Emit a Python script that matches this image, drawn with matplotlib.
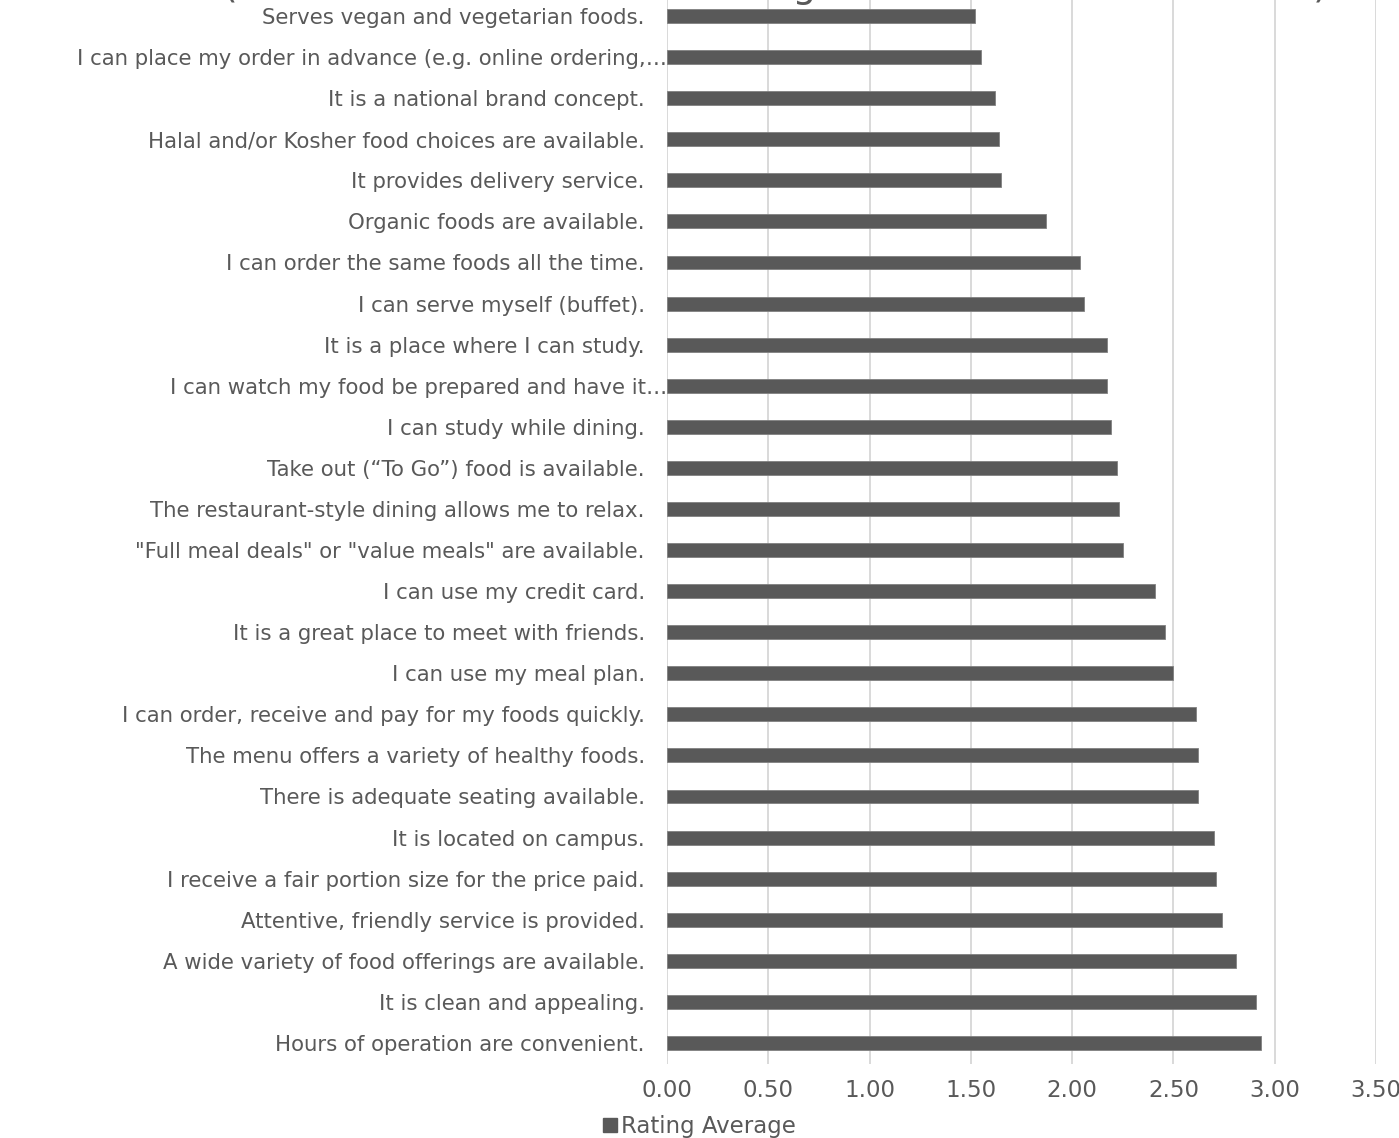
import matplotlib
matplotlib.use("Agg")
import matplotlib.pyplot as plt
from matplotlib.patches import Patch
import matplotlib.transforms as mtransforms
import numpy as np

# Categories, top to bottom as shown
labels = [
    "Serves vegan and vegetarian foods.",
    "I can place my order in advance (e.g. online ordering,…",
    "It is a national brand concept.",
    "Halal and/or Kosher food choices are available.",
    "It provides delivery service.",
    "Organic foods are available.",
    "I can order the same foods all the time.",
    "I can serve myself (buffet).",
    "It is a place where I can study.",
    "I can watch my food be prepared and have it…",
    "I can study while dining.",
    "Take out (\u201cTo Go\u201d) food is available.",
    "The restaurant-style dining allows me to relax.",
    "\"Full meal deals\" or \"value meals\" are available.",
    "I can use my credit card.",
    "It is a great place to meet with friends.",
    "I can use my meal plan.",
    "I can order, receive and pay for my foods quickly.",
    "The menu offers a variety of healthy foods.",
    "There is adequate seating available.",
    "It is located on campus.",
    "I receive a fair portion size for the price paid.",
    "Attentive, friendly service is provided.",
    "A wide variety of food offerings are available.",
    "It is clean and appealing.",
    "Hours of operation are convenient.",
]
rating_avg = [
    1.52, 1.55, 1.62, 1.64, 1.65, 1.87, 2.04, 2.06, 2.17, 2.17, 2.19, 2.22, 2.23,
    2.25, 2.41, 2.46, 2.50, 2.61, 2.62, 2.62, 2.70, 2.71, 2.74, 2.81, 2.91, 2.93,
]
x_ticks = [0.0, 0.5, 1.0, 1.5, 2.0, 2.5, 3.0, 3.5]
title = "(Mean Score of Students Rating Each Restaurant Attribute)"

text_col = "#595959"
bar_col = "#595959"
plt.rcParams["font.family"] = ["DejaVu Sans"]

W, H = 1399, 1138
fig = plt.figure(figsize=(W / 100, H / 100), dpi=100)
ax = fig.add_axes([667 / W, (H - 1063.5) / H, (1376 - 667) / W, 1068 / H])

y = np.arange(len(labels))
ax.barh(y, rating_avg, height=0.34, color=bar_col, edgecolor="#808080",
        linewidth=0.6, zorder=3)

ax.set_ylim(len(labels) - 0.5, -0.5)
ax.set_xlim(0, 3.5)
ax.set_yticks(y)
ax.set_yticklabels(labels, fontsize=15.3, color=text_col)
ax.set_xticks(x_ticks)
ax.set_xticklabels([f"{v:.2f}" for v in x_ticks], fontsize=16.5, color=text_col)
ax.tick_params(axis="both", length=0)
ax.tick_params(axis="y", pad=16)
ax.tick_params(axis="x", pad=11)
ax.grid(axis="x", color="#d9d9d9", linewidth=1.4, zorder=0)
for s in ax.spines.values():
    s.set_visible(False)

# truncated labels run right up to the axis, like in Excel
shift = mtransforms.ScaledTranslation(16 / 72, 0, fig.dpi_scale_trans)
for lab in ax.get_yticklabels():
    if lab.get_text().endswith("…"):
        lab.set_transform(lab.get_transform() + shift)

# title sits almost entirely above the visible area
fig.text(775 / W, 1 + 3 / H, title, ha="center", va="baseline",
         fontsize=27, color=text_col)

fig.legend(handles=[Patch(color=bar_col, label="Rating Average")],
           loc="lower center", bbox_to_anchor=(0.5, -0.018), frameon=False,
           fontsize=16.5, labelcolor=text_col, handlelength=0.6, handleheight=0.6,
           handletextpad=0.2)

fig.savefig("out.png", dpi=100)
